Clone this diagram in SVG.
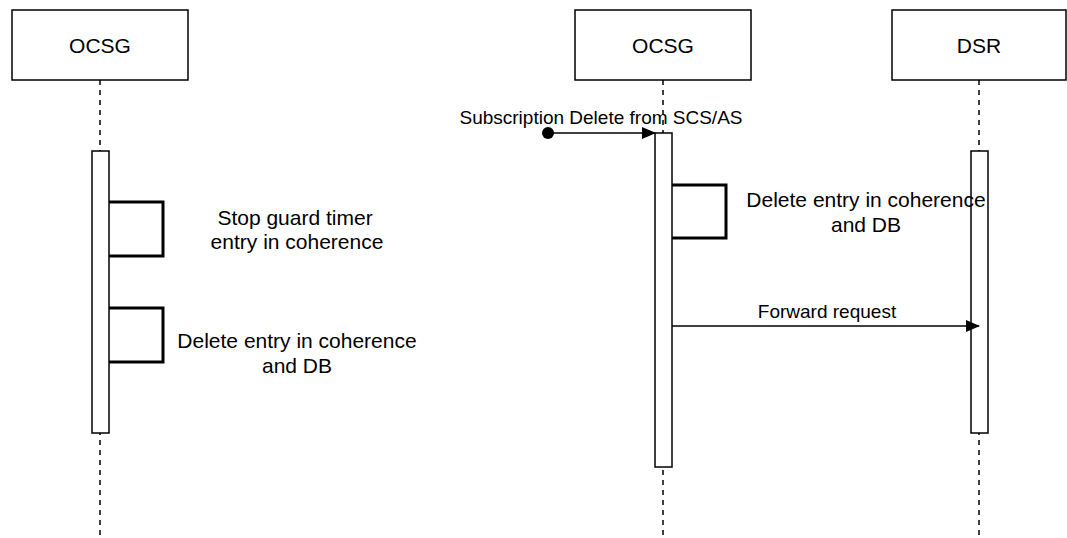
<svg xmlns="http://www.w3.org/2000/svg" width="1067" height="538" viewBox="0 0 1067 538">
<defs>
<style>
text{font-family:"Liberation Sans",Arial,sans-serif;fill:#000;}
.box{fill:#fff;stroke:#000;stroke-width:1.5;}
.life{stroke:#000;stroke-width:1.5;stroke-dasharray:5,5;fill:none;}
.act{fill:#fff;stroke:#000;stroke-width:1.5;}
.loop{fill:none;stroke:#000;stroke-width:3;}
.msg{stroke:#000;stroke-width:1.5;fill:none;}
.t{font-size:21px;text-anchor:middle;}
.m{font-size:19px;text-anchor:middle;}
</style>
<marker id="arr" markerWidth="14" markerHeight="12" refX="13" refY="6" orient="auto" markerUnits="userSpaceOnUse">
<path d="M0,0 L14,6 L0,12 Z" fill="#000"/>
</marker>
</defs>
<rect width="1067" height="538" fill="#fff"/>
<g id="lifelines">
<line class="life" x1="100" y1="80" x2="100" y2="538"/>
<line class="life" x1="663" y1="80" x2="663" y2="538"/>
<line class="life" x1="979" y1="80" x2="979" y2="538"/>
</g>
<g id="ocsg1">
<rect class="box" x="12" y="10" width="176" height="70"/>
<text class="t" x="100" y="53">OCSG</text>
<rect class="act" x="92" y="151" width="17" height="282"/>
</g>
<g id="ocsg2">
<rect class="box" x="575" y="10" width="176" height="70"/>
<text class="t" x="663" y="53">OCSG</text>
<rect class="act" x="655" y="133" width="17" height="334"/>
</g>
<g id="dsr">
<rect class="box" x="892" y="10" width="174" height="70"/>
<text class="t" x="979" y="53">DSR</text>
<rect class="act" x="971" y="151" width="17" height="282"/>
</g>
<g id="connectors">
<polyline class="loop" points="109,202 163,202 163,256 109,256"/>
<polyline class="loop" points="109,308 163,308 163,362 109,362"/>
<polyline class="loop" points="672,185 726,185 726,238 672,238"/>
<circle cx="548" cy="133" r="6" fill="#000"/>
<line class="msg" x1="548" y1="133" x2="655" y2="133" marker-end="url(#arr)"/>
<line class="msg" x1="672" y1="326" x2="979" y2="326" marker-end="url(#arr)"/>
</g>
<g id="labels">
<text class="t" x="295" y="225">Stop guard timer</text>
<text class="t" x="297" y="249">entry in coherence</text>
<text class="t" x="297" y="348">Delete entry in coherence</text>
<text class="t" x="297" y="373">and DB</text>
<text class="t" x="866" y="207">Delete entry in coherence</text>
<text class="t" x="866" y="232">and DB</text>
<text class="m" x="601" y="124">Subscription Delete from SCS/AS</text>
<text class="m" x="827" y="318">Forward request</text>
</g>
</svg>
